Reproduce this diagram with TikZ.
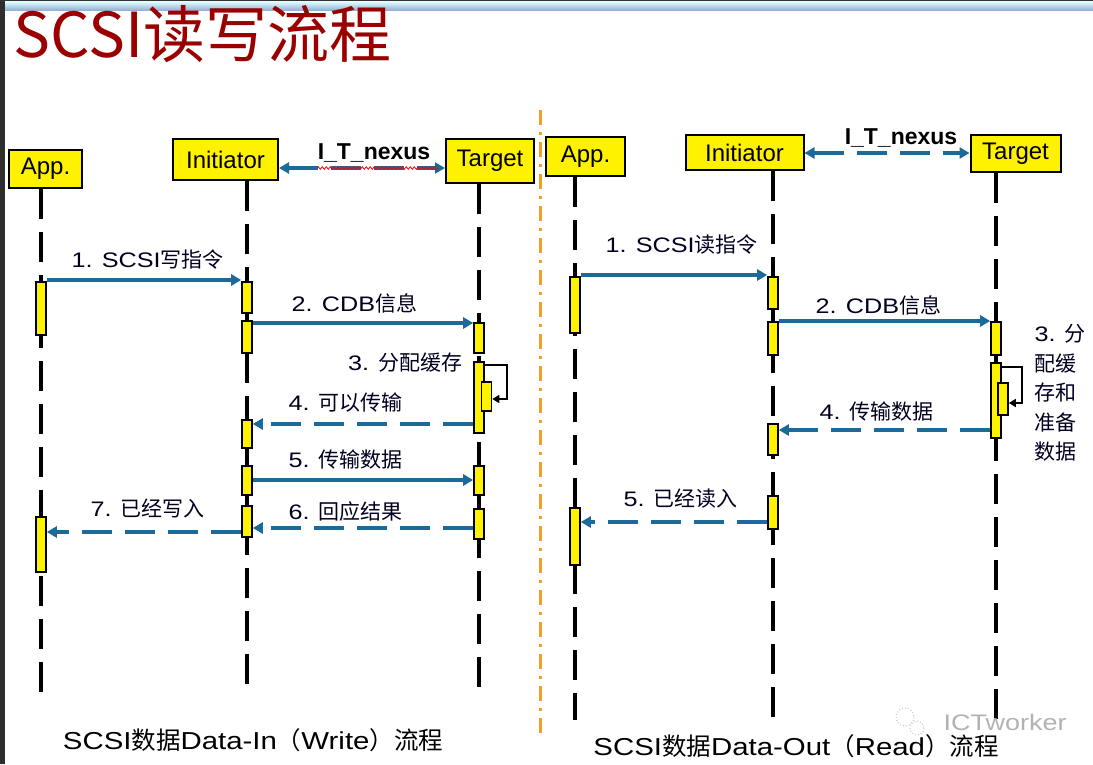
\documentclass[tikz,border=0pt]{standalone}
\usepackage{fontspec}
\setmainfont{Liberation Sans}
\newfontfamily\cjk{Noto Sans CJK SC}
\newfontfamily\widefont{Liberation Sans}[FakeStretch=1.2]
\newcommand{\zh}[1]{{\cjk #1}}
\usetikzlibrary{arrows.meta,decorations.pathmorphing}

\definecolor{msgblue}{RGB}{28,106,154}
\definecolor{titlered}{RGB}{155,0,0}
\definecolor{divorange}{RGB}{246,158,36}
\definecolor{bandblue}{RGB}{150,176,214}

\begin{document}
\begin{tikzpicture}[x=1pt, y=-1pt,
  actor/.style={draw=black, line width=2pt, fill=yellow, inner sep=0pt, font=\fontsize{24}{28}\selectfont},
  bar/.style={draw=black, line width=1.6pt, fill=yellow, inner sep=0pt, minimum width=10pt},
  life/.style={line width=3.4pt, dash pattern=on 30pt off 13pt},
  msg/.style={draw=msgblue, line width=3.1pt, -{Triangle[length=10pt,width=11pt]}},
  reply/.style={msg, dash pattern=on 30pt off 13pt},
  nexus/.style={draw=msgblue, line width=3.1pt, dash pattern=on 30pt off 13pt,
    {Triangle[length=10pt,width=11pt]}-{Triangle[length=10pt,width=11pt]}},
  selfloop/.style={draw=black, line width=1.5pt, -{Triangle[length=7pt,width=8pt]}},
  lbl/.style={font=\widefont\fontsize{21}{25}\selectfont, text=black!88!blue},
  caption/.style={font=\widefont\fontsize{24.5}{28}\selectfont}]

  % ── 画布 1:1 ──
  \useasboundingbox (0,0) rectangle (1093,764);

  % ── 窗口边框：左侧暗条 + 顶部蓝色渐变带 ──
  \fill[black!82] (0,0) rectangle (5,764);
  \fill[black!80] (0,0) rectangle (1093,1.5);
  \shade[top color=cyan!12, bottom color=bandblue] (5,1.5) rectangle (1093,10);

  % ── 标题 ──
  \node[anchor=base west, inner sep=0pt, text=titlered, font=\cjk\fontsize{62}{70}\selectfont] (title) at (13,57) {SCSI读写流程};

  % ── 中间分隔线 ──
  \draw[divorange, line width=3pt, dash pattern=on 15pt off 7pt on 3pt off 7pt] (540,110) -- (540,735);

  % ════════ 左：Data-In（Write）════════
  \node[actor, minimum width=73pt, minimum height=38pt] (appL) at (45.5,169) {App.};
  \node[actor, minimum width=105pt, minimum height=41pt] (iniL) at (225.5,159.5) {Initiator};
  \node[actor, minimum width=88pt, minimum height=44pt] (tgtL) at (490,161) {Target};

  \draw[nexus] (iniL.east |- 0,168) -- (tgtL.west |- 0,168);
  \draw[red, line width=0.8pt, decorate, decoration={snake, amplitude=1.3pt, segment length=4pt}] (317,168) -- (438,168);
  \node[font=\fontsize{23}{27}\selectfont\bfseries] (nexL) at (374,153) {I\_T\_nexus};

  % 生命线
  \draw[life] (appL.south -| 41,0) -- (41,695);
  \draw[life] (iniL.south -| 247,0) -- (247,695);
  \draw[life] (tgtL.south -| 479,0) -- (479,695);

  % 激活条
  \node[bar, minimum height=53pt] (appLA) at (41,308.5) {};
  \node[bar, minimum height=55pt] (appLB) at (41,544.5) {};
  \node[bar, minimum height=31pt] (iniLA) at (247,297.5) {};
  \node[bar, minimum height=32pt] (iniLB) at (247,337) {};
  \node[bar, minimum height=28pt] (iniLC) at (247,434) {};
  \node[bar, minimum height=29pt] (iniLD) at (247,480.5) {};
  \node[bar, minimum height=31pt] (iniLE) at (247,521.5) {};
  \node[bar, minimum height=30pt] (tgtLA) at (479,338) {};
  \node[bar, minimum height=71pt] (tgtLB) at (479,397.5) {};
  \node[bar, minimum height=29pt] (tgtLN) at (486.5,396.5) {};
  \node[bar, minimum height=29pt] (tgtLC) at (479,480.5) {};
  \node[bar, minimum height=30pt] (tgtLD) at (479,524) {};

  % 消息
  \draw[msg] (appLA.east |- 0,280) -- (iniLA.west |- 0,280);
  \draw[msg] (iniLB.east |- 0,323) -- (tgtLA.west |- 0,323);
  \draw[selfloop] (tgtLB.east |- 0,365) -- ++(22,0) |- (tgtLN.east |- 0,399);
  \draw[reply] (tgtLB.west |- 0,424) -- (iniLC.east |- 0,424);
  \draw[msg] (iniLD.east |- 0,480) -- (tgtLC.west |- 0,480);
  \draw[reply] (tgtLD.west |- 0,528) -- (iniLE.east |- 0,528);
  \draw[reply] (iniLE.west |- 0,532) -- (appLB.east |- 0,532);

  \node[lbl, anchor=west] (l1L) at (68,260) {1. SCSI\zh{写指令}};
  \node[lbl, anchor=west] (l2L) at (288,303) {2. CDB\zh{信息}};
  \node[lbl, anchor=east] (l3L) at (466,363) {3. \zh{分配缓存}};
  \node[lbl, anchor=west] (l4L) at (285,403) {4. \zh{可以传输}};
  \node[lbl, anchor=west] (l5L) at (285,460) {5. \zh{传输数据}};
  \node[lbl, anchor=west] (l6L) at (285,512) {6. \zh{回应结果}};
  \node[lbl, anchor=west] (l7L) at (87,508) {7. \zh{已经写入}};

  \node[caption] (capL) at (253,740) {SCSI\zh{数据}Data-In\zh{（}Write\zh{）流程}};

  % ════════ 右：Data-Out（Read）════════
  \node[actor, minimum width=79pt, minimum height=39pt] (appR) at (585.5,156.5) {App.};
  \node[actor, minimum width=118pt, minimum height=35pt] (iniR) at (744.5,152.5) {Initiator};
  \node[actor, minimum width=90pt, minimum height=37pt] (tgtR) at (1015.5,153.5) {Target};

  \draw[nexus] (iniR.east |- 0,153) -- (tgtR.west |- 0,153);
  \node[font=\fontsize{23}{27}\selectfont\bfseries] (nexR) at (901,138) {I\_T\_nexus};

  % 生命线
  \draw[life] (appR.south -| 575,0) -- (575,720);
  \draw[life] (iniR.south -| 773,0) -- (773,720);
  \draw[life] (tgtR.south -| 996,0) -- (996,720);

  % 激活条
  \node[bar, minimum height=56pt] (appRA) at (575,305) {};
  \node[bar, minimum height=57pt] (appRB) at (575,536.5) {};
  \node[bar, minimum height=32pt] (iniRA) at (773,293) {};
  \node[bar, minimum height=33pt] (iniRB) at (773,338.5) {};
  \node[bar, minimum height=31pt] (iniRC) at (773,439.5) {};
  \node[bar, minimum height=33pt] (iniRD) at (773,512.5) {};
  \node[bar, minimum height=33pt] (tgtRA) at (996,338.5) {};
  \node[bar, minimum height=75pt] (tgtRB) at (996,400.5) {};
  \node[bar, minimum height=32pt] (tgtRN) at (1003,399) {};

  % 消息
  \draw[msg] (appRA.east |- 0,275) -- (iniRA.west |- 0,275);
  \draw[msg] (iniRB.east |- 0,321) -- (tgtRA.west |- 0,321);
  \draw[selfloop] (tgtRB.east |- 0,367) -- ++(20,0) |- (tgtRN.east |- 0,403);
  \draw[reply] (tgtRB.west |- 0,430) -- (iniRC.east |- 0,430);
  \draw[reply] (iniRD.west |- 0,522) -- (appRB.east |- 0,522);

  \node[lbl, anchor=west] (l1R) at (602,245) {1. SCSI\zh{读指令}};
  \node[lbl, anchor=west] (l2R) at (812,305) {2. CDB\zh{信息}};
  \node[lbl, anchor=north west, align=left, font=\widefont\fontsize{21}{29.5}\selectfont] (l3R) at (1031,321)
    {3. \zh{分}\\\zh{配缓}\\\zh{存和}\\\zh{准备}\\\zh{数据}};
  \node[lbl, anchor=west] (l4R) at (816,412) {4. \zh{传输数据}};
  \node[lbl, anchor=west] (l5R) at (620,499) {5. \zh{已经读入}};

  \node[caption] (capR) at (796,746) {SCSI\zh{数据}Data-Out\zh{（}Read\zh{）流程}};

  % ── 水印 ──
  \draw[gray!45, line width=1pt, dotted] (905,717) circle (9);
  \draw[gray!45, line width=1pt, dotted] (917,728) circle (7);
  \node[anchor=west, text=gray!60, font=\widefont\fontsize{22.5}{27}\selectfont] (mark) at (940,722) {ICTworker};
\end{tikzpicture}
\end{document}
